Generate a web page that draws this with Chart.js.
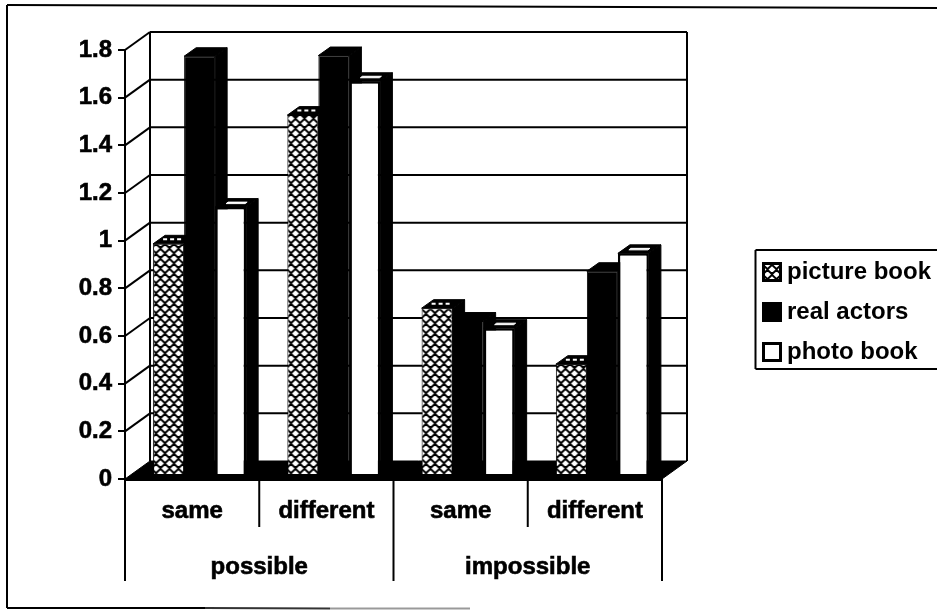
<!DOCTYPE html>
<html>
<head>
<meta charset="utf-8">
<style>
html, body { margin: 0; padding: 0; background: #fff; }
#wrap { width: 937px; height: 610px; }
</style>
<script src="https://cdn.jsdelivr.net/npm/chart.js@4/dist/chart.umd.js"></script>
</head>
<body>
<div id="wrap"><canvas id="chart" width="937" height="610"></canvas></div>
<script>
var categories = ['same', 'different', 'same', 'different'];
var groups = ['possible', 'impossible'];
var seriesNames = ['picture book', 'real actors', 'photo book'];
var pictureBook = [0.97, 1.51, 0.70, 0.465];
var realActors = [1.757, 1.76, 0.646, 0.855];
var photoBook = [1.124, 1.652, 0.616, 0.93];
var yTickLabels = ['0', '0.2', '0.4', '0.6', '0.8', '1', '1.2', '1.4', '1.6', '1.8'];

var WALL_X = 25, WALL_Y = 18;   // depth of the whole box
var BAR_X = 7.5, BAR_Y = -4;    // bars stand in the middle of the floor
var DEPTH_X = 12, DEPTH_Y = 8.5; // depth of one bar

function hatchPattern() {
    var c = document.createElement('canvas');
    c.width = 9;
    c.height = 10;
    var g = c.getContext('2d');
    g.fillStyle = '#000';
    g.fillRect(0, 0, 9, 10);
    g.fillStyle = '#fff';
    [[4.5, 2.5], [0, 7.5], [9, 7.5]].forEach(function (p) {
        g.beginPath();
        g.moveTo(p[0] - 3.5, p[1]);
        g.lineTo(p[0], p[1] - 3.2);
        g.lineTo(p[0] + 3.5, p[1]);
        g.lineTo(p[0], p[1] + 3.2);
        g.closePath();
        g.fill();
    });
    return g.createPattern(c, 'repeat');
}

// legend marker: 20px swatch on the right of a 28px image
function swatch(fill) {
    var c = document.createElement('canvas');
    c.width = 28;
    c.height = 20;
    var g = c.getContext('2d');
    g.fillStyle = fill;
    g.fillRect(8, 0, 20, 20);
    g.strokeStyle = '#000';
    g.lineWidth = 3;
    g.strokeRect(9.5, 1.5, 17, 17);
    return c;
}

function poly(ctx, pts, fill) {
    ctx.beginPath();
    pts.forEach(function (p, i) {
        if (i === 0) ctx.moveTo(p[0], p[1]); else ctx.lineTo(p[0], p[1]);
    });
    ctx.closePath();
    ctx.fillStyle = fill;
    ctx.strokeStyle = fill;
    ctx.lineWidth = 1;
    ctx.fill();
    ctx.stroke();
}

function line(ctx, x1, y1, x2, y2, w, color) {
    ctx.beginPath();
    ctx.moveTo(x1, y1);
    ctx.lineTo(x2, y2);
    ctx.lineWidth = w || 2;
    ctx.strokeStyle = color || '#000';
    ctx.stroke();
}

function drawBox(chart) {
    var ctx = chart.ctx, a = chart.chartArea, yScale = chart.scales.y;
    ctx.save();
    yScale.ticks.forEach(function (t, i) {
        var py = yScale.getPixelForTick(i);
        if (i > 0) line(ctx, a.left + WALL_X, py - WALL_Y, a.right + WALL_X, py - WALL_Y);
        if (i > 0) line(ctx, a.left, py, a.left + WALL_X, py - WALL_Y);
    });
    line(ctx, a.left + WALL_X, a.top - WALL_Y, a.left + WALL_X, a.bottom - WALL_Y);
    line(ctx, a.right + WALL_X, a.top - WALL_Y, a.right + WALL_X, a.bottom - WALL_Y);
    poly(ctx, [[a.left, a.bottom], [a.right, a.bottom], [a.right + WALL_X, a.bottom - WALL_Y], [a.left + WALL_X, a.bottom - WALL_Y]], '#000');
    ctx.restore();
}

function drawBarDepth(ctx, meta, index) {
    meta.data.forEach(function (bar) {
        var p = bar.getProps(['x', 'y', 'base', 'width'], true);
        var l = p.x - p.width / 2, r = p.x + p.width / 2;
        poly(ctx, [[l, p.y], [l + DEPTH_X, p.y - DEPTH_Y], [r + DEPTH_X, p.y - DEPTH_Y], [r, p.y]], '#000');
        poly(ctx, [[r, p.y], [r + DEPTH_X, p.y - DEPTH_Y], [r + DEPTH_X, p.base - DEPTH_Y], [r, p.base]], '#000');
        if (index === 2) {
            poly(ctx, [[l + 11, p.y - 3.5], [l + 13, p.y - 5], [r + 1, p.y - 5], [r - 1, p.y - 3.5]], '#fff');
        } else if (index === 0) {
            ctx.save();
            ctx.setLineDash([4, 3]);
            line(ctx, l + 10, p.y - 4.5, r - 2, p.y - 4.5, 2, '#fff');
            ctx.restore();
        }
    });
}

var box3d = {
    id: 'box3d',
    beforeDraw: function (chart) {
        var ctx = chart.ctx;
        ctx.save();
        // outer frame of the scan, no right side
        line(ctx, 7, 5, 7, 608, 2);
        line(ctx, 7, 5, 937, 8, 2);
        line(ctx, 7, 608, 205, 608, 2);
        line(ctx, 205, 608, 330, 608.5, 2, '#333');
        line(ctx, 330, 608.5, 470, 608.5, 2, '#999');
        // legend frame, runs off the page on the right
        line(ctx, 937, 250, 755.5, 250, 2);
        line(ctx, 755.5, 250, 755.5, 369, 2);
        line(ctx, 755.5, 369, 937, 369, 2);
        ctx.restore();
    },
    afterLayout: function (chart) {
        var lg = chart.legend;
        lg.left = 745;
        lg.right = 937;
        lg.top = 244;
        lg.bottom = 400;
    },
    beforeDatasetsDraw: function (chart) {
        var ctx = chart.ctx;
        drawBox(chart);
        ctx.save();
        ctx.translate(BAR_X, BAR_Y);
        // left to right so each bar hides the side of the one before
        chart.data.datasets.forEach(function (ds, i) {
            var meta = chart.getDatasetMeta(i);
            drawBarDepth(ctx, meta, i);
            meta.controller.draw();
        });
        ctx.restore();
        return false;
    },
    afterDraw: function (chart) {
        var ctx = chart.ctx, a = chart.chartArea, x = chart.scales.x;
        var step = x.width / categories.length;
        ctx.save();
        for (var i = 0; i <= categories.length; i++) {
            var px = a.left + i * step;
            line(ctx, px, a.bottom, px, i % 2 === 0 ? 581 : 527, 2);
        }
        ctx.restore();
    }
};

var hatch = hatchPattern();
var labelFont = { family: '"Liberation Sans", Arial, sans-serif', size: 24, weight: 'bold' };
var swatches = [swatch(hatch), swatch('#000'), swatch('#fff')];

new Chart(document.getElementById('chart').getContext('2d'), {
    type: 'bar',
    data: {
        labels: categories,
        datasets: [
            { label: seriesNames[0], data: pictureBook, backgroundColor: hatch, borderColor: '#000', borderWidth: 1 },
            { label: seriesNames[1], data: realActors, backgroundColor: '#000', borderColor: '#000', borderWidth: 1 },
            { label: seriesNames[2], data: photoBook, backgroundColor: '#fff', borderColor: '#000', borderWidth: 2.5 }
        ]
    },
    plugins: [box3d],
    options: {
        responsive: false,
        animation: false,
        datasets: { bar: { barPercentage: 1, categoryPercentage: 0.693 } },
        layout: { padding: { left: 0, top: 50, right: 275, bottom: 29 } },
        plugins: {
            title: { display: false },
            tooltip: { enabled: false },
            legend: {
                position: 'chartArea',
                align: 'start',
                labels: {
                    color: '#000',
                    font: labelFont,
                    usePointStyle: true,
                    pointStyleWidth: 14,
                    padding: 16,
                    generateLabels: function () {
                        return seriesNames.map(function (name, i) {
                            return { text: name, pointStyle: swatches[i], datasetIndex: i, fontColor: '#000', lineWidth: 0 };
                        });
                    }
                }
            }
        },
        scales: {
            x: {
                weight: 0,
                grid: { display: false },
                border: { color: '#000', width: 3 },
                ticks: { color: '#000', font: labelFont, textStrokeColor: '#000', textStrokeWidth: 0.6, padding: 10, maxRotation: 0, autoSkip: false },
                afterFit: function (s) { s.height = 48; }
            },
            x2: {
                type: 'category',
                position: 'bottom',
                weight: 1,
                labels: groups,
                offset: true,
                grid: { display: false },
                border: { display: false },
                ticks: { color: '#000', font: labelFont, textStrokeColor: '#000', textStrokeWidth: 0.6, padding: 18, maxRotation: 0, autoSkip: false },
                afterFit: function (s) { s.height = 54; }
            },
            y: {
                min: 0,
                max: 1.8,
                afterFit: function (s) { s.width = 125; },
                grid: { drawOnChartArea: false, color: '#000', lineWidth: 2, tickLength: 7 },
                border: { color: '#000', width: 2 },
                ticks: {
                    stepSize: 0.2,
                    color: '#000',
                    font: labelFont,
                    textStrokeColor: '#000',
                    textStrokeWidth: 0.6,
                    padding: 6,
                    callback: function (v, i) { return yTickLabels[i]; }
                }
            }
        }
    }
});
</script>
</body>
</html>
